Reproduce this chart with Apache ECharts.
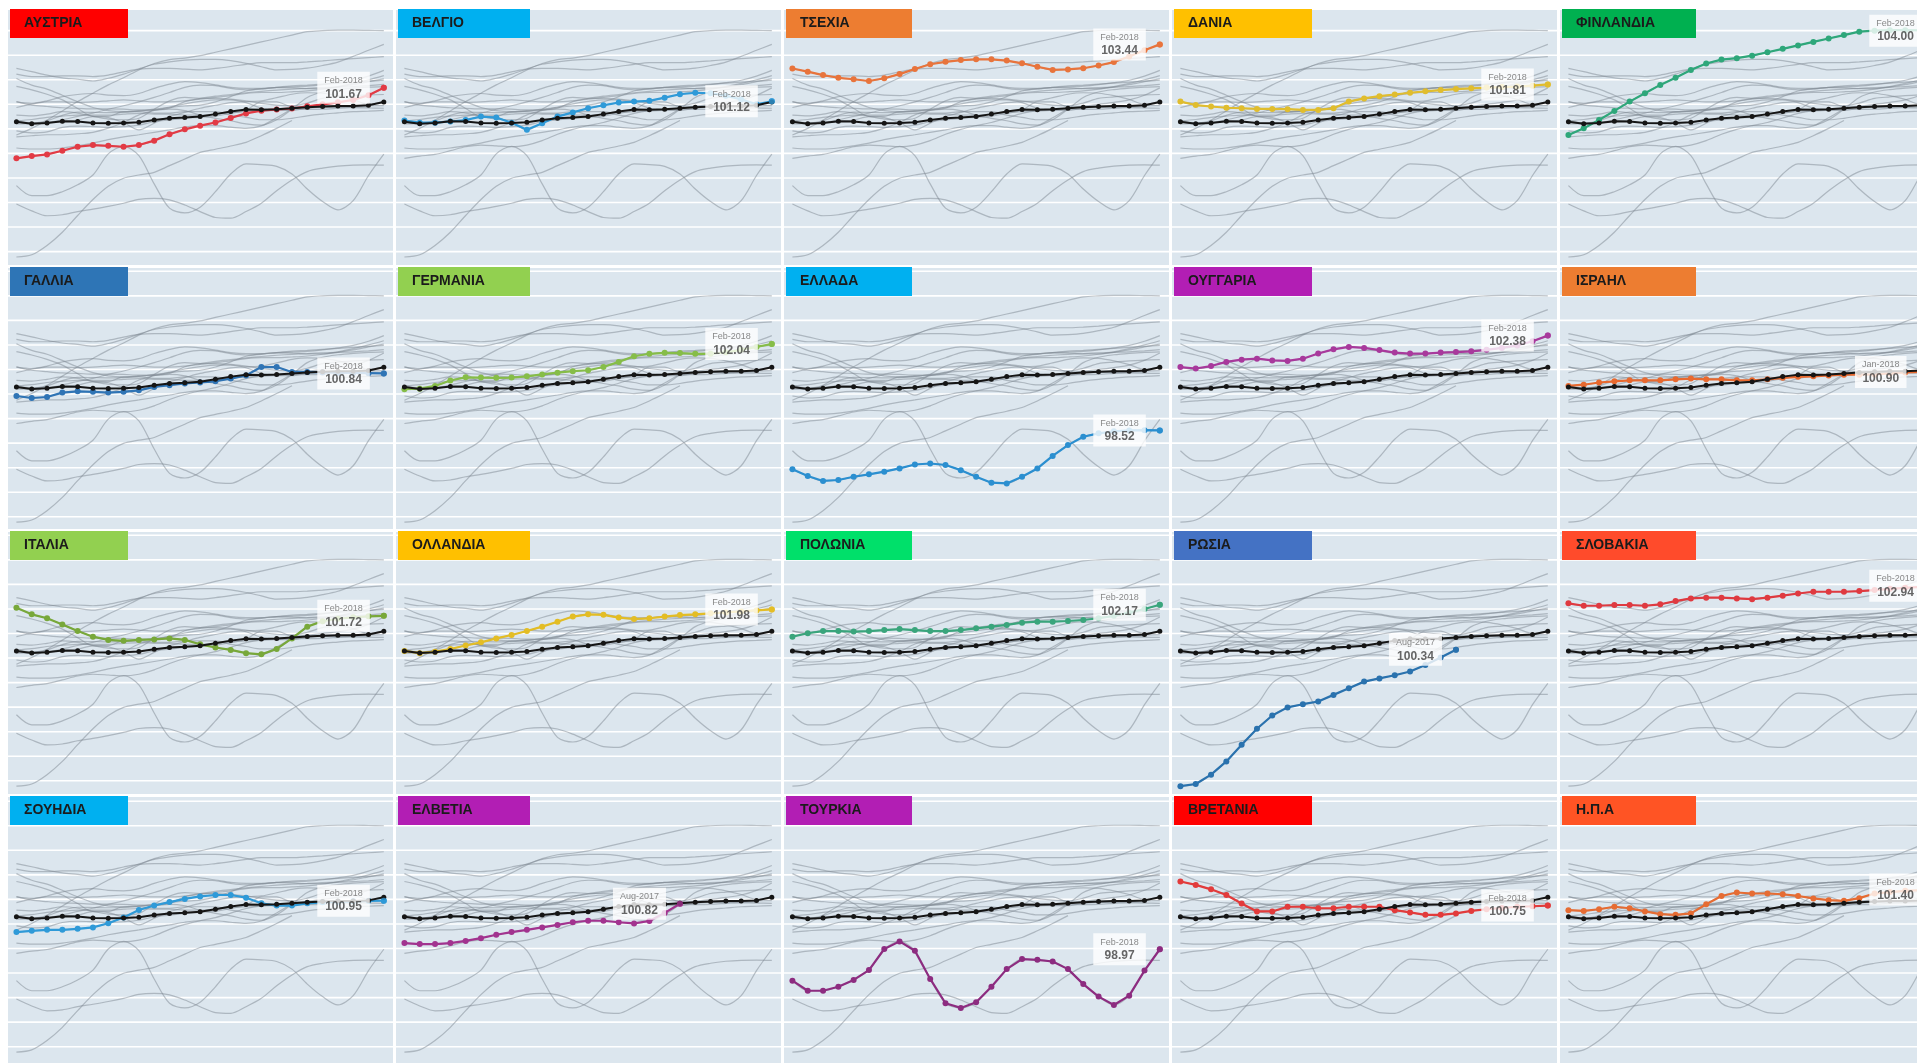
<!DOCTYPE html>
<html><head><meta charset="utf-8">
<script src="https://cdn.jsdelivr.net/npm/echarts@6/dist/echarts.min.js"></script>
<style>html,body{margin:0;padding:0;background:#fff;overflow:hidden;width:1917px;height:1063px}#c{width:1960px;height:1063px}</style>
</head><body><div id="c"></div>
<script>
const months = ['Feb-2016','Mar-2016','Apr-2016','May-2016','Jun-2016','Jul-2016','Aug-2016','Sep-2016','Oct-2016','Nov-2016','Dec-2016','Jan-2017','Feb-2017','Mar-2017','Apr-2017','May-2017','Jun-2017','Jul-2017','Aug-2017','Sep-2017','Oct-2017','Nov-2017','Dec-2017','Jan-2018','Feb-2018'];

const countries = ['ΑΥΣΤΡΙΑ','ΒΕΛΓΙΟ','ΤΣΕΧΙΑ','ΔΑΝΙΑ','ΦΙΝΛΑΝΔΙΑ','ΓΑΛΛΙΑ','ΓΕΡΜΑΝΙΑ','ΕΛΛΑΔΑ','ΟΥΓΓΑΡΙΑ','ΙΣΡΑΗΛ','ΙΤΑΛΙΑ','ΟΛΛΑΝΔΙΑ','ΠΟΛΩΝΙΑ','ΡΩΣΙΑ','ΣΛΟΒΑΚΙΑ','ΣΟΥΗΔΙΑ','ΕΛΒΕΤΙΑ','ΤΟΥΡΚΙΑ','ΒΡΕΤΑΝΙΑ','Η.Π.Α'];

const average = [100.29,100.21,100.24,100.31,100.30,100.24,100.23,100.24,100.27,100.36,100.43,100.46,100.50,100.60,100.71,100.79,100.78,100.80,100.84,100.88,100.91,100.93,100.93,100.96,101.09];

const AUT = [98.80,98.89,98.96,99.11,99.27,99.34,99.31,99.27,99.34,99.52,99.78,99.98,100.13,100.26,100.44,100.63,100.74,100.79,100.83,100.92,101.00,101.08,101.18,101.37,101.67];
const BEL = [100.34,100.25,100.25,100.30,100.36,100.50,100.46,100.25,99.96,100.23,100.50,100.67,100.84,100.96,101.07,101.11,101.14,101.27,101.41,101.47,101.45,101.35,101.20,101.00,101.12];
const CZE = [102.46,102.33,102.19,102.08,102.02,101.95,102.06,102.23,102.44,102.63,102.73,102.80,102.83,102.83,102.78,102.67,102.53,102.40,102.42,102.47,102.58,102.72,102.95,103.20,103.44];
const DNK = [101.11,100.97,100.91,100.86,100.84,100.81,100.81,100.80,100.77,100.77,100.84,101.11,101.24,101.33,101.40,101.47,101.53,101.58,101.62,101.65,101.68,101.70,101.72,101.76,101.81];
const FIN = [99.75,100.02,100.36,100.73,101.11,101.45,101.79,102.08,102.40,102.66,102.82,102.88,102.98,103.12,103.26,103.40,103.54,103.68,103.82,103.96,104.00,104.02,104.02,104.01,104.00];
const FRA = [99.92,99.84,99.88,100.06,100.11,100.09,100.06,100.09,100.15,100.29,100.36,100.43,100.47,100.52,100.63,100.76,101.10,101.10,100.90,100.90,100.88,100.87,100.86,100.85,100.84];
const DEU = [100.20,100.22,100.33,100.55,100.68,100.67,100.66,100.67,100.72,100.80,100.87,100.93,100.97,101.10,101.31,101.54,101.64,101.68,101.67,101.64,101.64,101.70,101.80,101.92,102.04];
const GRC = [96.94,96.66,96.46,96.50,96.63,96.73,96.84,96.97,97.13,97.17,97.11,96.90,96.63,96.39,96.36,96.63,96.97,97.48,97.92,98.26,98.40,98.48,98.52,98.53,98.52];
const HUN = [101.10,101.04,101.14,101.31,101.40,101.44,101.37,101.35,101.44,101.65,101.82,101.92,101.88,101.79,101.69,101.65,101.65,101.69,101.71,101.74,101.80,101.88,101.98,102.15,102.38];
const ISR = [100.33,100.38,100.47,100.52,100.56,100.56,100.56,100.60,100.63,100.60,100.60,100.56,100.56,100.60,100.66,100.70,100.72,100.76,100.79,100.79,100.80,100.84,100.88,100.90,null];
const ITA = [102.05,101.78,101.62,101.37,101.10,100.87,100.74,100.70,100.74,100.76,100.80,100.74,100.56,100.43,100.33,100.20,100.15,100.37,100.80,101.28,101.50,101.60,101.66,101.70,101.72];
const NLD = [100.29,100.20,100.26,100.37,100.51,100.64,100.80,100.94,101.10,101.28,101.48,101.69,101.78,101.76,101.65,101.59,101.62,101.69,101.75,101.78,101.82,101.86,101.90,101.94,101.98];
const POL = [100.87,101.01,101.10,101.10,101.08,101.10,101.14,101.18,101.14,101.10,101.10,101.14,101.21,101.28,101.35,101.44,101.48,101.48,101.51,101.55,101.62,101.72,101.85,102.00,102.17];
const RUS = [94.78,94.87,95.25,95.79,96.47,97.12,97.66,97.99,98.12,98.23,98.50,98.77,99.04,99.17,99.30,99.45,99.72,100.02,100.34,null,null,null,null,null,null];
const SVK = [102.23,102.13,102.13,102.16,102.16,102.13,102.19,102.32,102.43,102.46,102.46,102.43,102.40,102.46,102.54,102.63,102.70,102.70,102.70,102.73,102.77,102.82,102.86,102.90,102.94];
const SWE = [99.67,99.72,99.76,99.76,99.80,99.86,100.03,100.26,100.57,100.75,100.89,101.02,101.12,101.18,101.18,101.07,100.84,100.75,100.75,100.84,100.88,100.90,100.92,100.94,100.95];
const CHE = [99.22,99.18,99.18,99.22,99.31,99.42,99.56,99.67,99.76,99.86,99.96,100.07,100.13,100.13,100.07,100.02,100.12,100.45,100.82,null,null,null,null,null,null];
const TUR = [97.69,97.28,97.28,97.44,97.72,98.12,98.98,99.29,98.91,97.76,96.77,96.58,96.81,97.44,98.16,98.57,98.54,98.47,98.16,97.55,97.04,96.70,97.08,98.10,98.97];
const GBR = [101.73,101.59,101.41,101.18,100.83,100.51,100.51,100.70,100.70,100.64,100.64,100.70,100.70,100.70,100.56,100.47,100.37,100.37,100.43,100.53,100.60,100.65,100.70,100.72,100.75];
const USA = [100.56,100.53,100.60,100.70,100.64,100.51,100.40,100.37,100.43,100.80,101.14,101.28,101.24,101.24,101.21,101.14,101.04,100.97,100.94,101.05,101.24,101.30,101.35,101.38,101.40];

const countryValues = [AUT,BEL,CZE,DNK,FIN,FRA,DEU,GRC,HUN,ISR,ITA,NLD,POL,RUS,SVK,SWE,CHE,TUR,GBR,USA];
const gridLevels = [94,95,96,97,98,99,100,101,102,103,104,105];

const titleColors = ['#ff0000','#00b0f0','#ed7d31','#ffc000','#00b050','#2e75b6','#92d050','#00b0f0','#b21eb4','#ed7d31','#92d050','#ffc000','#00e06a','#4472c4','#ff4b2b','#00b0f0','#b21eb4','#b21eb4','#ff0000','#ff5424'];
const lineColors = ['#e23b45','#2f9ad8','#e8743c','#e0bd2e','#2ea77a','#2f74b5','#86bd48','#2b8fd0','#a8399c','#e8692f','#78a83a','#e3bd25','#3aa57c','#2a72ae','#df3a40','#2f9ad8','#a2338f','#8d2c80','#e23b3b','#e66c33'];

const colLeft = [8, 396, 784, 1172, 1560];
const panelW = 385;
const rowTop = [10, 268, 532, 797];
const rowBottom = [265, 529, 794, 1063];
const rowY101 = [104.3, 369.5, 633.5, 899.4];
const pxPerUnit = 24.55;
const titleW = [118, 132, 126, 138, 134];

const FONT = "'Liberation Sans Narrow','Liberation Sans',Arial,sans-serif";

const grids = [], xAxes = [], yAxes = [], series = [], graphics = [];

countries.forEach((name, k) => {
  const r = Math.floor(k / 5), c = k % 5;
  const top = rowTop[r], bottom = rowBottom[r];
  const yMax = 101 + (rowY101[r] - top) / pxPerUnit;
  const yMin = 101 - (bottom - rowY101[r]) / pxPerUnit;
  grids.push({left: colLeft[c], top: top, width: panelW, height: bottom - top, show: true, backgroundColor: '#dce6ee', borderWidth: 0, containLabel: false});
  xAxes.push({type: 'value', gridIndex: k, min: -0.55, max: 24.6, show: false});
  yAxes.push({type: 'value', gridIndex: k, min: yMin, max: yMax, show: false});

  series.push({
    type: 'custom', xAxisIndex: k, yAxisIndex: k, silent: true, z: 1,
    data: gridLevels.filter(v => v > yMin && v < yMax).map(v => [0, v]),
    renderItem: (params, api) => {
      const y = api.coord([0, api.value(1)])[1];
      const cs = params.coordSys;
      return {type: 'line', shape: {x1: cs.x, y1: y, x2: cs.x + cs.width, y2: y}, style: {stroke: '#ffffff', lineWidth: 1.6}};
    }
  });

  countryValues.forEach(vals => {
    series.push({
      type: 'line', xAxisIndex: k, yAxisIndex: k, silent: true, z: 2,
      data: vals.map((v, i) => [i, v]).filter(p => p[1] !== null),
      symbol: 'none', smooth: 0.3,
      lineStyle: {color: 'rgba(125,135,145,0.5)', width: 1.2}
    });
  });

  const vals = countryValues[k];
  const pts = vals.map((v, i) => [i, v]).filter(p => p[1] !== null);
  const last = pts[pts.length - 1];

  series.push({
    type: 'line', xAxisIndex: k, yAxisIndex: k, silent: true, z: 3,
    data: pts, symbol: 'circle', symbolSize: 6, showSymbol: true,
    lineStyle: {color: lineColors[k], width: 2.2},
    itemStyle: {color: lineColors[k]}
  });

  series.push({
    type: 'line', xAxisIndex: k, yAxisIndex: k, silent: true, z: 4,
    data: average.map((v, i) => [i, v]), symbol: 'circle', symbolSize: 5,
    lineStyle: {color: '#151515', width: 2},
    itemStyle: {color: '#151515'}
  });

  series.push({
    type: 'scatter', xAxisIndex: k, yAxisIndex: k, silent: true, z: 6,
    data: [last], symbolSize: 6,
    itemStyle: {color: lineColors[k]},
    label: {
      show: true, position: 'left', distance: 11,
      formatter: () => '{a|' + months[last[0]] + '}\n{b|' + last[1].toFixed(2) + '}',
      backgroundColor: '#ffffff', padding: [3, 7, 2, 7],
      rich: {
        a: {fontFamily: FONT, fontSize: 9, color: '#6b6b6b', lineHeight: 12, align: 'center'},
        b: {fontFamily: FONT, fontSize: 12, fontWeight: 'bold', color: '#404040', lineHeight: 15, align: 'center'}
      }
    }
  });

  graphics.push({
    type: 'rect', left: colLeft[c] + 2, top: top - 1, z: 100,
    shape: {width: titleW[c], height: 29}, style: {fill: titleColors[k]}
  });
  graphics.push({
    type: 'text', left: colLeft[c] + 16, top: top + 6, z: 101,
    style: {text: name, fill: '#1b1b1b', font: "bold 14px " + FONT}
  });
});

const chart = echarts.init(document.getElementById('c'), null, {renderer: 'canvas'});
chart.setOption({
  animation: false,
  backgroundColor: '#ffffff',
  grid: grids, xAxis: xAxes, yAxis: yAxes, series: series, graphic: graphics
});
</script></body></html>
